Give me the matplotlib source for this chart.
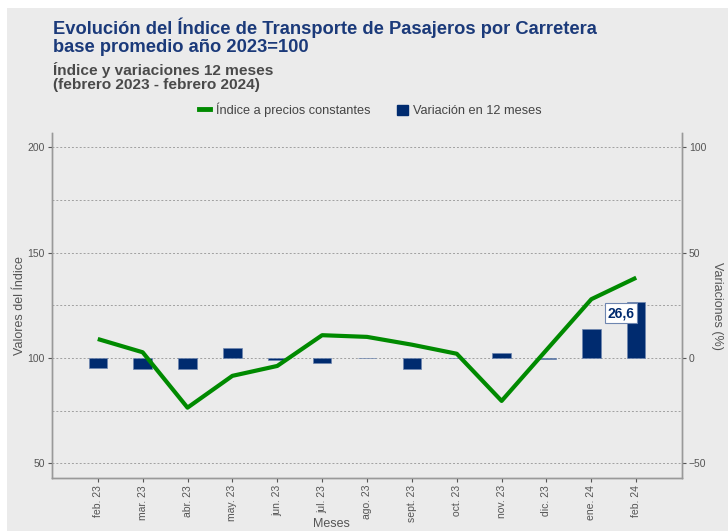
import matplotlib.pyplot as plt
import matplotlib.patches as mpatches
from matplotlib.lines import Line2D
import numpy as np

plt.rcParams["font.family"] = ["Liberation Sans", "DejaVu Sans"]

# Data
months = ["feb. 23", "mar. 23", "abr. 23", "may. 23", "jun. 23", "jul. 23", "ago. 23",
          "sept. 23", "oct. 23", "nov. 23", "dic. 23", "ene. 24", "feb. 24"]
index_values = [109.0, 102.7, 76.4, 91.5, 96.2, 110.8, 110.0, 106.3, 102.0, 79.6, 103.8, 127.9, 138.1]
variation_12m = [-4.9, -5.2, -5.4, 4.7, -1.0, -2.5, 0.2, -5.2, 0.2, 2.2, -0.6, 13.6, 26.6]

bg = "#EBEBEB"
green = "#008A00"
navy = "#002B6F"
title_color = "#1B3A7A"
grid_color = "#A0A0A0"
spine_color = "#999999"
text_gray = "#555555"

fig = plt.figure(figsize=(7.28, 5.31), dpi=100, facecolor="white")
fig.patches.append(mpatches.Rectangle((7 / 728, 0), 1, 1 - 8 / 531, transform=fig.transFigure,
                                      facecolor=bg, edgecolor="none", zorder=-10))

ax = fig.add_axes([52 / 728, 53 / 531, 630 / 728, 345 / 531])
ax2 = ax.twinx()

x = np.arange(len(months))

# ax2 (bars, grid) sits below ax (line)
ax.set_zorder(ax2.get_zorder() + 1)
ax.patch.set_visible(False)
ax2.patch.set_facecolor(bg)

# dotted grid lines
for v in [-50, -25, 0, 25, 50, 75, 100]:
    ax2.axhline(v, color=grid_color, linestyle=(0, (2, 2)), linewidth=0.7, zorder=1)

# bars on the right axis
ax2.bar(x, variation_12m, width=0.41, color=navy, edgecolor="#6E86B0", linewidth=0.5, zorder=2)

# line on the left axis
ax.plot(x, index_values, color=green, linewidth=3, solid_capstyle="butt", zorder=3)

# limits
ax.set_xlim(-1.02, 13.02)
ax.set_ylim(43.0, 206.8)
ax2.set_ylim(-57.0, 106.8)

ax.set_yticks([50, 100, 150, 200])
ax2.set_yticks([-50, 0, 50, 100])
ax.set_xticks(x)
ax.set_xticklabels(months, rotation=90)

for a in (ax, ax2):
    a.tick_params(axis="both", labelsize=7.5, colors=text_gray, length=3, width=0.8, pad=2)
    a.spines["top"].set_visible(False)
    for s in ["left", "right", "bottom"]:
        a.spines[s].set_color(spine_color)
        a.spines[s].set_linewidth(1)

ax.set_ylabel("Valores del Índice", fontsize=9, color=text_gray, va="center")
ax.yaxis.set_label_coords(-32 / 630, 0.5)
ax2.set_ylabel("Variaciones (%)", fontsize=9, color=text_gray, rotation=270, va="center")
ax2.yaxis.set_label_coords(1 + 35 / 630, 0.5)
ax.set_xlabel("Meses", fontsize=9, color=text_gray, va="center")
ax.xaxis.set_label_coords(0.444, -46 / 345)

# data label for last bar
ax2.annotate(f"{variation_12m[-1]:.1f}".replace(".", ","), xy=(x[-1], variation_12m[-1]),
             xytext=(-11, -8), textcoords="offset points", ha="center", va="center",
             fontsize=10, fontweight="bold", color=navy,
             bbox=dict(boxstyle="square,pad=0.2", facecolor="white", edgecolor="#6E86B0", linewidth=0.8),
             zorder=5)

# titles
fig.text(53 / 728, 1 - 28 / 531, "Evolución del Índice de Transporte de Pasajeros por Carretera",
         fontsize=13.2, fontweight="bold", color=title_color, va="center")
fig.text(53 / 728, 1 - 47 / 531, "base promedio año 2023=100",
         fontsize=13.2, fontweight="bold", color=title_color, va="center")
fig.text(53 / 728, 1 - 70 / 531, "Índice y variaciones 12 meses",
         fontsize=11.1, fontweight="bold", color="#4A4A4A", va="center")
fig.text(53 / 728, 1 - 85 / 531, "(febrero 2023 - febrero 2024)",
         fontsize=11.1, fontweight="bold", color="#4A4A4A", va="center")

# legend
handles = [Line2D([0], [0], color=green, linewidth=3.5),
           mpatches.Patch(facecolor=navy, edgecolor=navy)]
fig.legend(handles, ["Índice a precios constantes", "Variación en 12 meses"],
           loc="center", bbox_to_anchor=(370.5 / 728, 1 - 110 / 531), ncol=2, frameon=False,
           fontsize=9.2, labelcolor="#444444", handlelength=0.85, handleheight=0.85,
           handletextpad=0.45, columnspacing=2.1)

fig.savefig("out.png", dpi=100, facecolor="white")
